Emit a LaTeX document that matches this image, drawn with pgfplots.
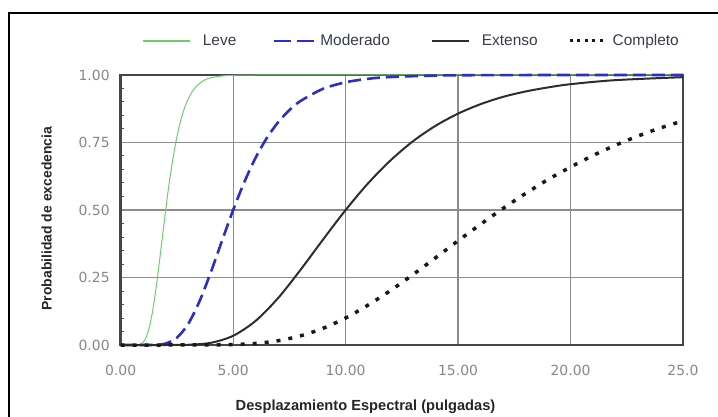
\documentclass[border=0pt]{standalone}
\usepackage{fontspec}
\setmainfont{Liberation Sans}
\newfontfamily\dejavu{DejaVu Sans}
\usepackage{pgfplots}
\pgfplotsset{compat=1.18}
\definecolor{leve}{RGB}{110,205,110}
\definecolor{moder}{RGB}{45,45,200}
\definecolor{ext}{RGB}{45,45,45}
\definecolor{framec}{RGB}{70,70,70}
\definecolor{gridc}{RGB}{140,140,140}
\definecolor{tickc}{RGB}{135,135,135}
\definecolor{legtext}{RGB}{55,60,75}
\begin{document}
\begin{tikzpicture}
\begin{axis}[
 scale only axis, width=562.3bp, height=270bp,
 xmin=0, xmax=25, ymin=0, ymax=1,
 xtick={0,5,...,25}, xticklabels={0.00,5.00,10.00,15.00,20.00,25.0},
 ytick={0,0.25,0.5,0.75,1}, yticklabels={0.00,0.25,0.50,0.75,1.00},
 minor y tick num=4,
 major tick length=0pt, minor tick length=3bp,
 tick align=inside,
 minor tick style={framec, line width=1bp},
 xtick pos=bottom, ytick pos=left,
 grid=major, major grid style={gridc, line width=1.3bp},
 minor grid style={draw=none},
 axis line style={framec, line width=2.6bp},
 tick label style={font=\dejavu\fontsize{14}{14}\selectfont, text=tickc},
 xticklabel style={yshift=-17bp},
 yticklabel style={xshift=-7.5bp},
 xlabel={Desplazamiento Espectral (pulgadas)},
 ylabel={Probabilidad de excedencia},
 xlabel style={font=\bfseries\fontsize{14.7}{15}\selectfont, text=black!85, at={(axis description cs:0.4354,-0.2433)}, anchor=base},
 ylabel style={font=\bfseries\fontsize{14}{15}\selectfont, text=black!85, at={(axis description cs:-0.1227,0.4685)}, anchor=base},
 clip=false,
 legend columns=4,
 legend style={draw=none, fill=none, at={(0.5154,1.126)}, anchor=center,
   font=\fontsize{15.5}{15.5}\selectfont, text=legtext,
   nodes={inner sep=0pt}},
 legend cell align=left,
]
\addplot[leve, line width=1bp, smooth,
  legend image code/.code={\path[draw=none] (0bp,0bp) -- (60bp,0bp); \draw[leve, line width=1.3bp, solid] (0bp,0bp) -- (47bp,0bp);}]
 coordinates {(0,0) (0.6,0) (0.8,0.0011) (0.9,0.0039) (1.0,0.0104) (1.1,0.0231) (1.2,0.0446) (1.3,0.0755) (1.4,0.117) (1.5,0.169) (1.6,0.228) (1.7,0.294) (1.8,0.363) (1.9,0.432) (2.0,0.5) (2.1,0.565) (2.2,0.625) (2.3,0.679) (2.4,0.728) (2.5,0.771) (2.6,0.809) (2.7,0.841) (2.8,0.869) (2.9,0.892) (3.0,0.911) (3.15,0.935) (3.3,0.952) (3.45,0.965) (3.6,0.975) (3.8,0.984) (4.0,0.9896) (4.5,0.9965) (5,0.9989) (6,1) (10,1) (15,1) (20,1) (25,1)};
\addlegendentry{Leve}
\addplot[moder, line width=2.6bp, smooth, dash pattern=on 13bp off 6bp,
  legend image code/.code={\path[draw=none] (0bp,0bp) -- (84bp,0bp); \draw[moder, line width=2bp, dash pattern=on 17bp off 6bp] (38bp,0bp) -- (79bp,0bp);}]
 coordinates {(0,0) (1.5,0.0004) (2.0,0.0055) (2.5,0.0271) (3.0,0.078) (3.5,0.161) (4.0,0.268) (4.5,0.385) (5.0,0.5) (5.5,0.604) (6.0,0.694) (6.5,0.767) (7.0,0.825) (7.5,0.870) (8,0.904) (9,0.949) (10,0.973) (11,0.986) (12,0.9925) (14,0.9979) (16,0.9994) (20,1) (25,1)};
\addlegendentry{Moderado}
\addplot[ext, line width=2bp, smooth,
  legend image code/.code={\path[draw=none] (0bp,0bp) -- (92bp,0bp); \draw[ext, line width=1.6bp, solid] (42bp,0bp) -- (79bp,0bp);}]
 coordinates {(0,0) (2,0) (3,0.0008) (4,0.0080) (5,0.0341) (6,0.0895) (7,0.174) (8,0.279) (9,0.391) (10,0.5) (11,0.599) (12,0.684) (13,0.755) (14,0.812) (15,0.857) (16,0.892) (17,0.919) (18,0.939) (19,0.954) (20,0.966) (22,0.981) (25,0.992)};
\addlegendentry{Extenso}
\addplot[black!90, line width=3.5bp, smooth, dash pattern=on 4bp off 8bp,
  legend image code/.code={\path[draw=none] (0bp,0bp) -- (75bp,0bp); \draw[black!90, line width=3bp, dash pattern=on 3bp off 4.5bp] (32bp,0bp) -- (69bp,0bp);}]
 coordinates {(0,0) (2,0) (4,0.0002) (5,0.0015) (6,0.0058) (7,0.0158) (8,0.034) (9,0.062) (10,0.100) (11,0.148) (12,0.202) (13,0.261) (14,0.323) (15,0.386) (16,0.447) (17,0.506) (18,0.561) (19,0.613) (20,0.659) (21,0.702) (22,0.740) (23,0.774) (24,0.804) (25,0.830)};
\addlegendentry{Completo}
\end{axis}
\draw[line width=1.3bp] (-111.7bp,-72bp) -- (-111.7bp,332bp) -- (597.3bp,332bp);
\pgfresetboundingbox
\path[use as bounding box] (-120.7bp,-72bp) rectangle (597.3bp,345bp);
\end{tikzpicture}
\end{document}
